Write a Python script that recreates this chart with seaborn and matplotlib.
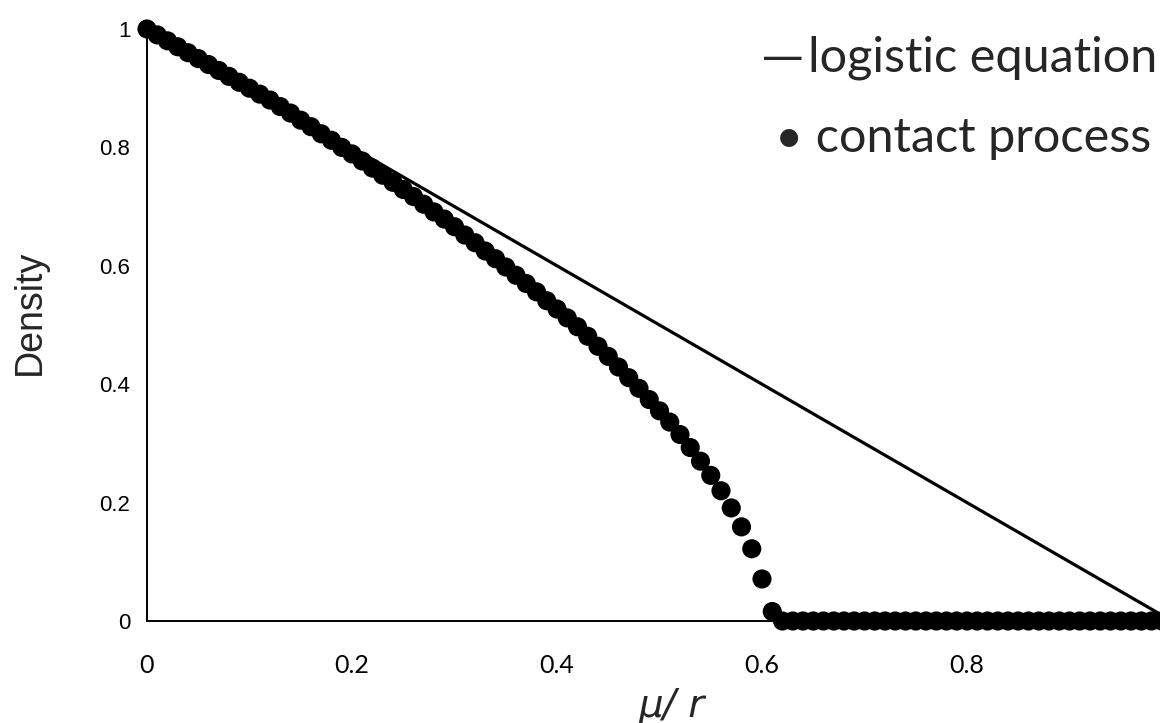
import matplotlib
matplotlib.use("Agg")
import matplotlib.pyplot as plt
import seaborn as sns

# ---------------- data ----------------
logistic_mu = [0.0, 1.0]
logistic_density = [1.0, 0.0]

contact_mu = [
    0.00, 0.01, 0.02, 0.03, 0.04, 0.05, 0.06, 0.07, 0.08, 0.09,
    0.10, 0.11, 0.12, 0.13, 0.14, 0.15, 0.16, 0.17, 0.18, 0.19,
    0.20, 0.21, 0.22, 0.23, 0.24, 0.25, 0.26, 0.27, 0.28, 0.29,
    0.30, 0.31, 0.32, 0.33, 0.34, 0.35, 0.36, 0.37, 0.38, 0.39,
    0.40, 0.41, 0.42, 0.43, 0.44, 0.45, 0.46, 0.47, 0.48, 0.49,
    0.50, 0.51, 0.52, 0.53, 0.54, 0.55, 0.56, 0.57, 0.58, 0.59,
    0.60, 0.61, 0.62, 0.63, 0.64, 0.65, 0.66, 0.67, 0.68, 0.69,
    0.70, 0.71, 0.72, 0.73, 0.74, 0.75, 0.76, 0.77, 0.78, 0.79,
    0.80, 0.81, 0.82, 0.83, 0.84, 0.85, 0.86, 0.87, 0.88, 0.89,
    0.90, 0.91, 0.92, 0.93, 0.94, 0.95, 0.96, 0.97, 0.98, 0.99,
]
contact_density = [
    1.000, 0.990, 0.980, 0.970, 0.960, 0.950, 0.940, 0.930, 0.920, 0.910,
    0.900, 0.890, 0.880, 0.869, 0.858, 0.846, 0.835, 0.823, 0.812, 0.800,
    0.789, 0.777, 0.765, 0.753, 0.741, 0.729, 0.717, 0.704, 0.691, 0.679,
    0.666, 0.652, 0.639, 0.625, 0.612, 0.598, 0.584, 0.570, 0.556, 0.541,
    0.527, 0.512, 0.497, 0.481, 0.464, 0.447, 0.429, 0.411, 0.393, 0.374,
    0.355, 0.336, 0.315, 0.293, 0.270, 0.246, 0.220, 0.191, 0.159, 0.122,
    0.071, 0.016, 0.000, 0.000, 0.000, 0.000, 0.000, 0.000, 0.000, 0.000,
    0.000, 0.000, 0.000, 0.000, 0.000, 0.000, 0.000, 0.000, 0.000, 0.000,
    0.000, 0.000, 0.000, 0.000, 0.000, 0.000, 0.000, 0.000, 0.000, 0.000,
    0.000, 0.000, 0.000, 0.000, 0.000, 0.000, 0.000, 0.000, 0.000, 0.000,
]

x_ticks = [0.0, 0.2, 0.4, 0.6, 0.8]
x_tick_labels = ["0", "0.2", "0.4", "0.6", "0.8"]
y_ticks = [0.0, 0.2, 0.4, 0.6, 0.8, 1.0]
y_tick_labels = ["0", "0.2", "0.4", "0.6", "0.8", "1"]

legend_dash = "\u2014"
legend_line_text = "logistic equation"
legend_dot_text = "\u2022 contact process"
x_label = "\u03bc/ r"
y_label = "Density"

# ---------------- figure ----------------
sns.set_theme(style="white")
plt.rcParams['font.family'] = ['Liberation Sans', 'DejaVu Sans']

W, H = 1160, 723
fig = plt.figure(figsize=(W / 100, H / 100), dpi=100)
ax = fig.add_axes([147 / W, 102 / H, 1013 / W, 592 / H])

sns.lineplot(x=logistic_mu, y=logistic_density, color='black',
             linewidth=2.3, ax=ax, zorder=2)
sns.scatterplot(x=contact_mu, y=contact_density, color='black', s=190,
                edgecolor='none', linewidth=0, ax=ax, clip_on=False, zorder=3)

ax.set_xlim(0, 1013 / 1025)
ax.set_ylim(0, 1)

for side in ['top', 'right']:
    ax.spines[side].set_visible(False)
for side in ['left', 'bottom']:
    ax.spines[side].set_color('black')
    ax.spines[side].set_linewidth(1.4)

ax.set_xticks(x_ticks)
ax.set_xticklabels(x_tick_labels, fontfamily=['Lato', 'DejaVu Sans'], fontsize=18)
ax.set_yticks(y_ticks)
ax.set_yticklabels(y_tick_labels, fontfamily=['Liberation Sans', 'DejaVu Sans'], fontsize=16)
ax.tick_params(axis='both', direction='out', length=6, width=1.2, color='black',
               labelcolor='black')
ax.tick_params(axis='x', pad=18)
ax.tick_params(axis='y', pad=6)
ax.set_xlabel("")
ax.set_ylabel("")

fig.text(30 / W, 1 - 312 / H, y_label, rotation=90, fontsize=27,
         ha='center', va='center', family=['Liberation Sans', 'DejaVu Sans'])
fig.text(672 / W, 1 - 706 / H, x_label, fontsize=28, style='italic',
         ha='center', va='center', family=['DejaVu Sans'])

fig.text(762 / W, 1 - 58 / H, legend_dash, fontsize=30,
         ha='left', va='center', family=['DejaVu Sans'])
fig.text(808 / W, 1 - 58 / H, legend_line_text, fontsize=35,
         ha='left', va='center', family=['Lato', 'DejaVu Sans'])
fig.text(775 / W, 1 - 138 / H, legend_dot_text, fontsize=35,
         ha='left', va='center', family=['Lato', 'DejaVu Sans'])

fig.savefig("out.png", dpi=100)
